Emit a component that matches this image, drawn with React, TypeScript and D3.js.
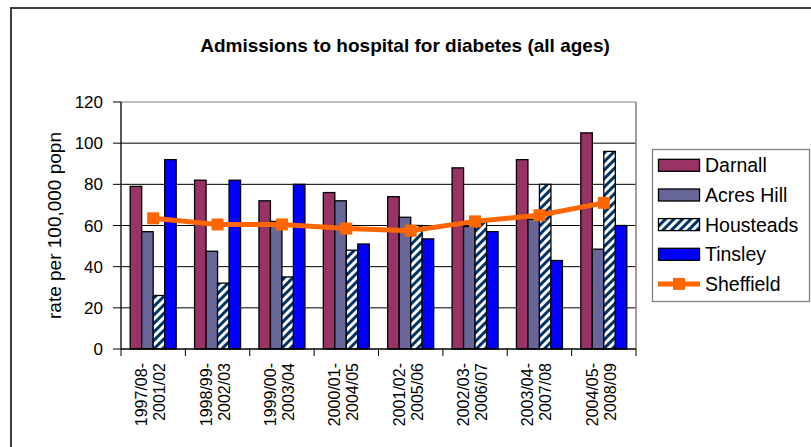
import React from "react";
import * as d3 from "d3";

const categories = [
  ["1997/08-", "2001/02"],
  ["1998/99-", "2002/03"],
  ["1999/00-", "2003/04"],
  ["2000/01-", "2004/05"],
  ["2001/02-", "2005/06"],
  ["2002/03-", "2006/07"],
  ["2003/04-", "2007/08"],
  ["2004/05-", "2008/09"],
];
const barSeries = ["Darnall", "Acres Hill", "Housteads", "Tinsley"];
const darnall = [79, 82, 72, 76, 74, 88, 92, 105];
const acresHill = [57, 47.5, 62, 72, 64, 59.5, 63, 48.5];
const housteads = [26, 32, 35, 48, 60, 62, 80, 96];
const tinsley = [92, 82, 80, 51, 53.5, 57, 43, 60];
const sheffield = [63.5, 60.5, 60.5, 58.5, 57.5, 62, 65, 71];
const yTicks = [0, 20, 40, 60, 80, 100, 120];

const barValues = [darnall, acresHill, housteads, tinsley];
const fills = ["#993366", "#666699", "url(#hatch)", "#0000FF"];

export default function App() {
  const W = 811, H = 447;
  const left = 121, right = 636, top = 102, bottom = 349;
  const font = "'Liberation Sans', Arial, sans-serif";
  const catIdx = categories.map((_, i) => i);
  const x = d3.scaleBand<number>().domain(catIdx).range([left, right]).padding(0);
  const xi = d3.scaleBand<number>().domain([0, 1, 2, 3]).range([0, x.bandwidth()]).paddingInner(0).paddingOuter(0.8);
  const y = d3.scaleLinear().domain([0, 120]).range([bottom, top]);
  const line = d3.line<number>().x((_, i) => (x(i) as number) + x.bandwidth() / 2).y((d) => y(d));
  const legendRows = [165.3, 195, 224.6, 254.3, 283.9];

  return (
    <div style={{ position: "fixed", left: 0, top: 0 }}>
      <svg width={W} height={H} style={{ display: "block", background: "#fff" }}>
        <defs>
          <pattern id="hatch" patternUnits="userSpaceOnUse" width="6" height="6" patternTransform="rotate(45)">
            <rect width="6" height="6" fill="#fff" />
            <rect width="3" height="6" fill="#003366" />
          </pattern>
        </defs>
        {/* outer border */}
        <path d={`M11,${H} L11,8 L${W},8`} fill="none" stroke="#404040" strokeWidth={2} />
        <text x={405} y={52} textAnchor="middle" fontFamily={font} fontWeight="bold" fontSize={19} fill="#000">
          Admissions to hospital for diabetes (all ages)
        </text>
        {/* gridlines */}
        {yTicks.filter((t) => t > 0).map((t) => (
          <line key={t} x1={left} x2={right} y1={y(t)} y2={y(t)} stroke={t === 120 ? "#808080" : "#000"} strokeWidth={1} />
        ))}
        <line x1={right} x2={right} y1={top} y2={bottom} stroke="#808080" strokeWidth={1.5} />
        {/* bars */}
        {barValues.map((vals, s) =>
          vals.map((v, i) => (
            <rect key={`${s}-${i}`} x={(x(i) as number) + (xi(s) as number)} y={y(v)} width={xi.bandwidth()} height={y(0) - y(v)}
              fill={fills[s]} stroke="#000" strokeWidth={1.3} />
          ))
        )}
        {/* axes */}
        <line x1={left} x2={left} y1={top} y2={bottom} stroke="#000" strokeWidth={1.3} />
        <line x1={left} x2={right} y1={bottom} y2={bottom} stroke="#000" strokeWidth={1.3} />
        {yTicks.map((t) => (
          <g key={t}>
            <line x1={left - 8} x2={left} y1={y(t)} y2={y(t)} stroke="#000" strokeWidth={1} />
            <text x={103} y={y(t) + 6} textAnchor="end" fontFamily={font} fontSize={17} fill="#000">{t}</text>
          </g>
        ))}
        {catIdx.concat([categories.length]).map((i) => {
          const xx = i < categories.length ? (x(i) as number) : right;
          return <line key={i} x1={xx} x2={xx} y1={bottom} y2={bottom + 7} stroke="#000" strokeWidth={1} />;
        })}
        {categories.map((c, i) => {
          const cx = (x(i) as number) + x.bandwidth() / 2;
          return (
            <g key={i}>
              {c.map((ln, j) => (
                <text key={j} transform={`translate(${cx - 6 + j * 18},363) rotate(-90)`} textAnchor="end"
                  fontFamily={font} fontSize={16} fill="#000">{ln}</text>
              ))}
            </g>
          );
        })}
        <text transform={`translate(61,${(top + bottom) / 2}) rotate(-90)`} textAnchor="middle" fontFamily={font} fontSize={19} fill="#000">
          rate per 100,000 popn
        </text>
        {/* Sheffield line */}
        <path d={line(sheffield) || ""} fill="none" stroke="#FF6600" strokeWidth={5} />
        {sheffield.map((v, i) => (
          <rect key={i} x={(x(i) as number) + x.bandwidth() / 2 - 6} y={y(v) - 6} width={12} height={12} fill="#FF6600" />
        ))}
        {/* legend */}
        <rect x={652.5} y={149.5} width={157} height={152} fill="#fff" stroke="#808080" strokeWidth={1.3} />
        {barSeries.map((name, s) => (
          <g key={name}>
            <rect x={658.5} y={legendRows[s] - 6} width={41} height={12} fill={fills[s]} stroke="#000" strokeWidth={1.3} />
            <text x={705} y={legendRows[s] + 7} fontFamily={font} fontSize={19.5} fill="#000">{name}</text>
          </g>
        ))}
        <line x1={658} x2={700} y1={legendRows[4]} y2={legendRows[4]} stroke="#FF6600" strokeWidth={5} />
        <rect x={673} y={legendRows[4] - 6} width={12} height={12} fill="#FF6600" />
        <text x={705} y={legendRows[4] + 7} fontFamily={font} fontSize={19.5} fill="#000">Sheffield</text>
      </svg>
    </div>
  );
}
